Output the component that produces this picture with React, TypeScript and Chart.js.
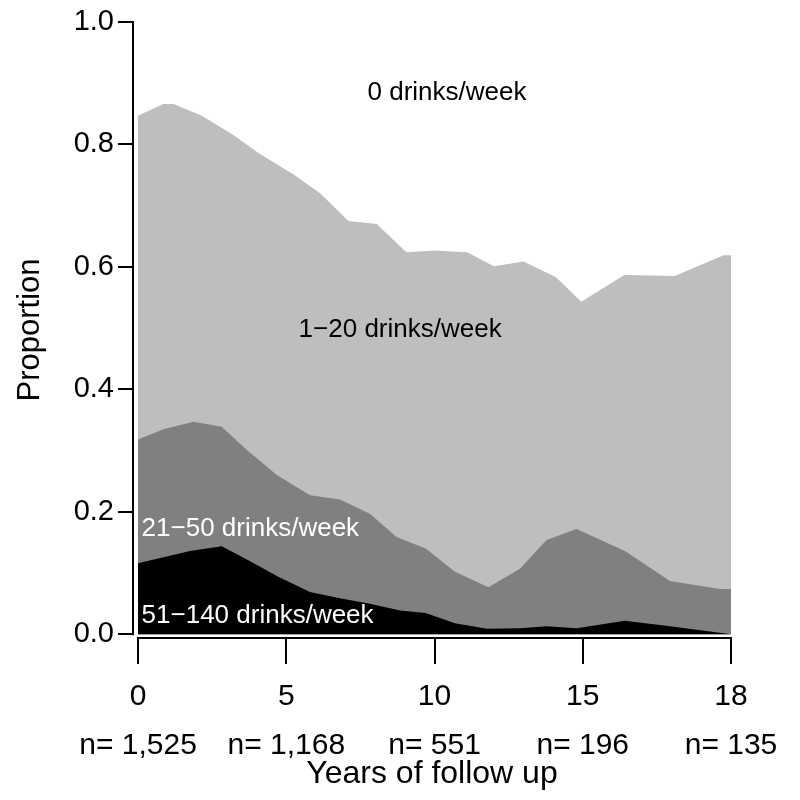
import React, { useEffect, useRef } from "react";
import { Chart, registerables } from "chart.js";

Chart.register(...registerables);

// x positions along the follow-up axis (axis units; the last labelled tick "18" sits at position 20)
const heavyYears = [0, 1.75, 2.82, 3.72, 4.73, 5.8, 6.81, 7.82, 8.84, 9.7, 10.69, 11.76, 12.88, 13.78, 14.79, 16.42, 17.94, 20];
// cumulative proportion drinking 51-140 drinks/week
const heavyCum = [0.116, 0.136, 0.144, 0.121, 0.094, 0.069, 0.059, 0.05, 0.039, 0.035, 0.018, 0.009, 0.01, 0.013, 0.01, 0.022, 0.013, 0.0];

const moderateYears = [0, 0.85, 1.87, 2.82, 3.67, 4.68, 5.8, 6.81, 7.82, 8.72, 9.7, 10.69, 11.82, 12.88, 13.78, 14.79, 16.42, 17.94, 19.63, 20];
// cumulative proportion drinking >= 21 drinks/week
const moderateCum = [0.318, 0.335, 0.347, 0.339, 0.301, 0.26, 0.227, 0.22, 0.197, 0.159, 0.14, 0.102, 0.077, 0.107, 0.154, 0.172, 0.136, 0.087, 0.074, 0.074];

const anyYears = [0, 0.85, 1.2, 2.15, 3.2, 4.1, 4.9, 5.25, 6.15, 7.1, 8.05, 9.05, 10.0, 11.1, 12.0, 13.0, 14.1, 14.95, 16.4, 18.1, 19.75, 20];
// cumulative proportion drinking >= 1 drink/week
const anyCum = [0.847, 0.866, 0.866, 0.847, 0.816, 0.785, 0.761, 0.751, 0.72, 0.675, 0.67, 0.624, 0.627, 0.624, 0.601, 0.609, 0.583, 0.543, 0.587, 0.585, 0.619, 0.619];

const xTickValues = [0, 5, 10, 15, 20];
const xTickYears = ["0", "5", "10", "15", "18"];
const xTickN = ["n= 1,525", "n= 1,168", "n= 551", "n= 196", "n= 135"];
const yTickValues = [0, 0.2, 0.4, 0.6, 0.8, 1.0];

const groupLabels = ["51\u2212140 drinks/week", "21\u221250 drinks/week", "1\u221220 drinks/week", "0 drinks/week"];

const SANS = "'Liberation Sans', Arial, sans-serif";

const annotations = [
  { text: groupLabels[3], x: 10.42, y: 0.884, color: "#000", align: "center" },
  { text: groupLabels[2], x: 8.84, y: 0.498, color: "#000", align: "center" },
  { text: groupLabels[1], x: 0.12, y: 0.173, color: "#fff", align: "left" },
  { text: groupLabels[0], x: 0.12, y: 0.031, color: "#fff", align: "left" },
];

export default function App() {
  const ref = useRef<HTMLCanvasElement>(null);

  useEffect(() => {
    if (!ref.current) return;
    const toPts = (xs: number[], ys: number[]) => xs.map((x, i) => ({ x, y: ys[i] }));

    const axesPlugin = {
      id: "axesAndLabels",
      afterDraw(chart: any) {
        const { ctx, chartArea, scales } = chart;
        const xs = scales.x;
        const ys = scales.y;
        ctx.save();
        ctx.strokeStyle = "#000";
        ctx.lineWidth = 2;
        ctx.beginPath();
        ctx.moveTo(chartArea.left, ys.getPixelForValue(yTickValues[0]) + 1);
        ctx.lineTo(chartArea.left, ys.getPixelForValue(yTickValues[yTickValues.length - 1]) - 1);
        ctx.moveTo(xs.getPixelForValue(xTickValues[0]) - 1, chartArea.bottom);
        ctx.lineTo(xs.getPixelForValue(xTickValues[xTickValues.length - 1]) + 1, chartArea.bottom);
        ctx.stroke();

        ctx.font = `26px ${SANS}`;
        ctx.textBaseline = "middle";
        annotations.forEach((a) => {
          ctx.fillStyle = a.color;
          ctx.textAlign = a.align;
          ctx.fillText(a.text, xs.getPixelForValue(a.x), ys.getPixelForValue(a.y));
        });
        ctx.restore();
      },
    };

    const chart = new Chart(ref.current, {
      type: "line",
      data: {
        datasets: [
          {
            label: groupLabels[0],
            data: toPts(heavyYears, heavyCum),
            backgroundColor: "#000000",
            borderColor: "rgba(0,0,0,0)",
            borderWidth: 0,
            pointRadius: 0,
            fill: "origin",
            tension: 0,
          },
          {
            label: groupLabels[1],
            data: toPts(moderateYears, moderateCum),
            backgroundColor: "#808080",
            borderColor: "rgba(0,0,0,0)",
            borderWidth: 0,
            pointRadius: 0,
            fill: "origin",
            tension: 0,
          },
          {
            label: groupLabels[2],
            data: toPts(anyYears, anyCum),
            backgroundColor: "#bebebe",
            borderColor: "rgba(0,0,0,0)",
            borderWidth: 0,
            pointRadius: 0,
            fill: "origin",
            tension: 0,
          },
        ],
      },
      options: {
        animation: false,
        responsive: true,
        maintainAspectRatio: false,
        events: [],
        layout: { padding: { top: 22, right: 69, left: 0, bottom: 0 } },
        plugins: {
          legend: { display: false },
          tooltip: { enabled: false },
        },
        scales: {
          x: {
            type: "linear",
            min: -0.17,
            max: 20,
            afterBuildTicks: (s: any) => {
              s.ticks = xTickValues.map((v) => ({ value: v }));
            },
            afterFit: (s: any) => {
              s.height = 162;
            },
            ticks: {
              autoSkip: false,
              maxRotation: 0,
              padding: 8,
              color: "#000",
              font: { family: SANS, size: 30, lineHeight: 1.633 },
              callback: (v: any) => {
                const i = xTickValues.indexOf(Number(v));
                return i < 0 ? "" : [xTickYears[i], xTickN[i]];
              },
            },
            grid: {
              display: true,
              drawOnChartArea: false,
              drawTicks: true,
              tickLength: 26,
              color: "#000",
              lineWidth: 2,
            },
            border: { display: false },
            title: {
              display: true,
              text: "Years of follow up",
              color: "#000",
              font: { family: SANS, size: 32 },
              padding: { top: 0, bottom: 7 },
            },
          },
          y: {
            type: "linear",
            min: -0.006,
            max: 1,
            afterBuildTicks: (s: any) => {
              s.ticks = yTickValues.map((v) => ({ value: v }));
            },
            afterFit: (s: any) => {
              s.width = 133;
            },
            ticks: {
              padding: 4,
              color: "#000",
              font: { family: SANS, size: 29 },
              callback: (v: any) => Number(v).toFixed(1),
            },
            grid: {
              display: true,
              drawOnChartArea: false,
              drawTicks: true,
              tickLength: 15,
              color: "#000",
              lineWidth: 2,
            },
            border: { display: false },
            title: {
              display: true,
              text: "Proportion",
              color: "#000",
              font: { family: SANS, size: 31 },
              padding: { top: 12, bottom: 0 },
            },
          },
        },
      },
      plugins: [axesPlugin],
    } as any);

    return () => chart.destroy();
  }, []);

  return (
    <div style={{ position: "fixed", left: 0, top: 0, width: 800, height: 800, background: "#fff" }}>
      <canvas ref={ref} />
    </div>
  );
}
